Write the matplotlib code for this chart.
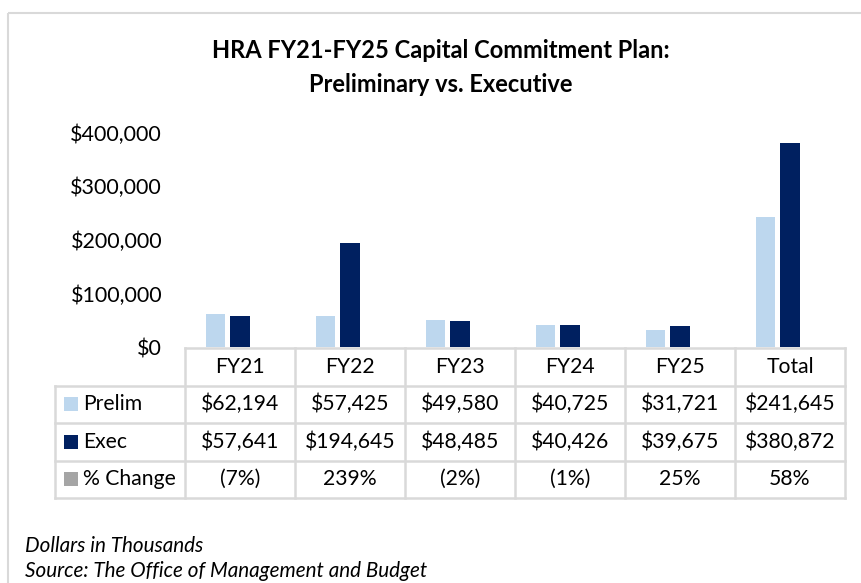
import matplotlib
matplotlib.use("Agg")
import matplotlib.pyplot as plt
from matplotlib.patches import Rectangle

plt.rcParams['font.family'] = ['Lato', 'DejaVu Sans']

categories = ["FY21", "FY22", "FY23", "FY24", "FY25", "Total"]
prelim = [62194, 57425, 49580, 40725, 31721, 241645]
execv = [57641, 194645, 48485, 40426, 39675, 380872]
pct_change = [-7, 239, -2, -1, 25, 58]
yticks = [0, 100000, 200000, 300000, 400000]

C_PRE = "#BDD7EE"
C_EXE = "#002060"
C_PCT = "#A5A5A5"
C_GRID = "#D9D9D9"
TXT = "#000000"

W, H = 862, 583
fig = plt.figure(figsize=(W / 100, H / 100), dpi=100)

# pixel layout
x0, x1 = 185, 845
y_zero, y_top = 347, 132.6
ax = fig.add_axes([x0 / W, (H - y_zero) / H, (x1 - x0) / W, (y_zero - y_top) / H])
n = len(categories)
idx = list(range(n))
bw = 0.18
off = 0.222
ax.bar([i - off for i in idx], prelim, width=bw, color=C_PRE, linewidth=0)
ax.bar(idx, execv, width=bw, color=C_EXE, linewidth=0)
ax.set_xlim(-0.5, n - 0.5)
ax.set_ylim(0, 400000)
ax.set_yticks(yticks)
ax.set_yticklabels(["${:,.0f}".format(v) for v in yticks], fontsize=15.5, color=TXT)
ax.tick_params(axis='y', length=0, pad=16.5)
ax.set_xticks([])
for s in ax.spines.values():
    s.set_visible(False)
ax.patch.set_alpha(0)

# overlay in pixel coordinates
ov = fig.add_axes([0, 0, 1, 1], zorder=-1)
ov.set_xlim(0, W)
ov.set_ylim(H, 0)
ov.axis('off')

# outer chart border (top & left)
ov.plot([8, W], [13, 13], color=C_GRID, lw=1.5, solid_capstyle='butt')
ov.plot([8, 8], [13, H], color=C_GRID, lw=1.5, solid_capstyle='butt')

ov.text(441, 50, "HRA FY21-FY25 Capital Commitment Plan:", ha='center', va='center',
        fontsize=17, fontweight='bold', color=TXT)
ov.text(441, 84, "Preliminary vs. Executive", ha='center', va='center',
        fontsize=17, fontweight='bold', color=TXT)

# data table
colw = (x1 - x0) / n
col_edges = [x0 + i * colw for i in range(n + 1)]
lab_left = 55
row_edges = [348, 385.5, 423, 460.5, 498]
lw = 1.8
# horizontal lines
ov.plot([x0, x1], [row_edges[0]] * 2, color=C_GRID, lw=lw)
for y in row_edges[1:]:
    ov.plot([lab_left, x1], [y, y], color=C_GRID, lw=lw)
# vertical lines
for xe in col_edges:
    ov.plot([xe, xe], [row_edges[0], row_edges[-1]], color=C_GRID, lw=lw)
ov.plot([lab_left, lab_left], [row_edges[1], row_edges[-1]], color=C_GRID, lw=lw)

def cy(r):
    return (row_edges[r] + row_edges[r + 1]) / 2

fs = 15.2
for i, c in enumerate(categories):
    xc = (col_edges[i] + col_edges[i + 1]) / 2
    ov.text(xc, cy(0), c, ha='center', va='center', fontsize=fs, color=TXT)
    ov.text(xc, cy(1), "${:,.0f}".format(prelim[i]), ha='center', va='center', fontsize=fs, color=TXT)
    ov.text(xc, cy(2), "${:,.0f}".format(execv[i]), ha='center', va='center', fontsize=fs, color=TXT)
    p = pct_change[i]
    ptxt = "({}%)".format(-p) if p < 0 else "{}%".format(p)
    ov.text(xc, cy(3), ptxt, ha='center', va='center', fontsize=fs, color=TXT)

labels = ["Prelim", "Exec", "% Change"]
colors = [C_PRE, C_EXE, C_PCT]
for r, (lab, col) in enumerate(zip(labels, colors), start=1):
    yc = cy(r)
    ov.add_patch(Rectangle((64, yc - 7), 14, 14, color=col, lw=0))
    ov.text(83, yc, lab, ha='left', va='center', fontsize=fs, color=TXT)

ov.text(25, 546, "Dollars in Thousands", ha='left', va='center', fontsize=14.9,
        style='italic', color=TXT)
ov.text(25, 571, "Source: The Office of Management and Budget", ha='left', va='center',
        fontsize=14.9, style='italic', color=TXT)

fig.savefig("out.png", dpi=100, facecolor='white')
